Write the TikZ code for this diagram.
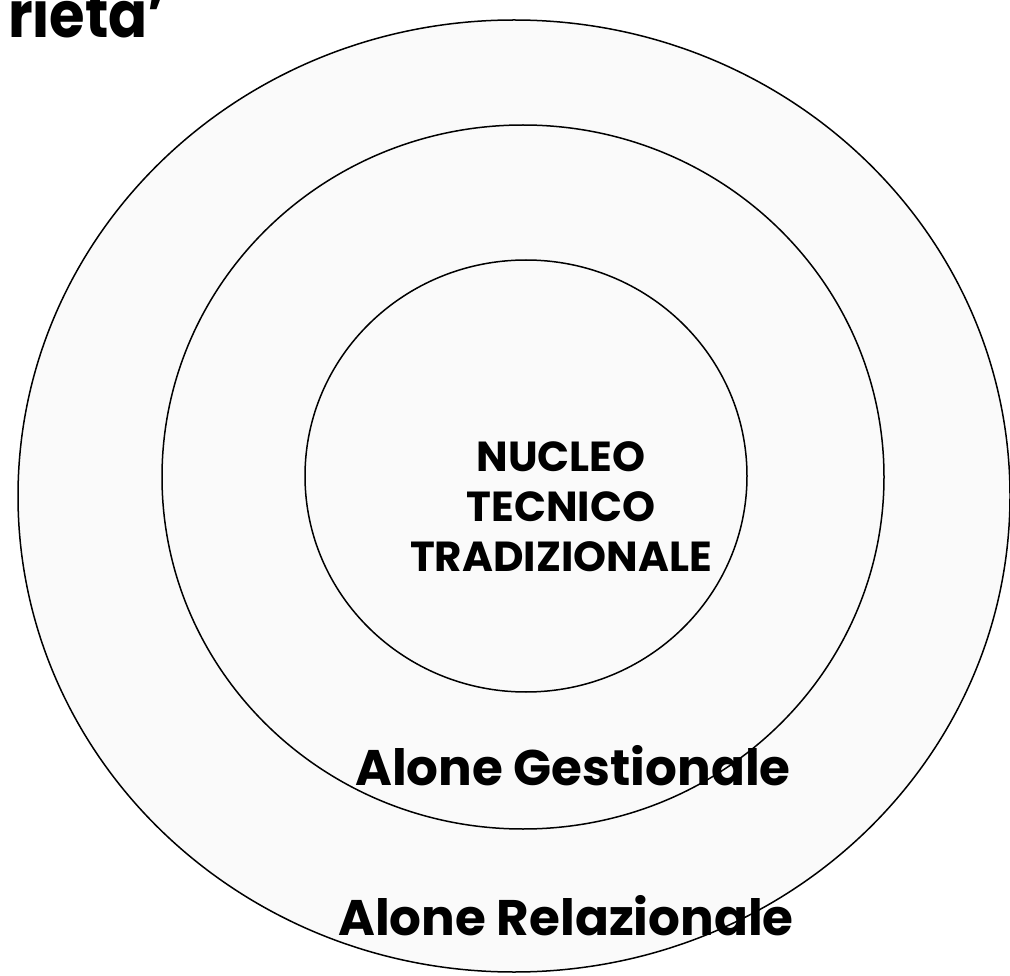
\documentclass[tikz,border=0pt]{standalone}
\usepackage{fontspec}
\setmainfont{Poppins}[BoldFont={* Bold}]
\begin{document}
\begin{tikzpicture}[x=1pt,y=-1pt,
  ring/.style={draw=black,line width=1.5pt,fill=black!2},
  lbl/.style={anchor=base,inner sep=0pt,font=\bfseries}]
\useasboundingbox (0,0) rectangle (1010,976);
\fill[white] (0,0) rectangle (1010,976);
\draw[ring] (514,496) ellipse [x radius=496, y radius=476];
\draw[ring] (523,477) ellipse [x radius=361, y radius=352];
\draw[ring] (526,476) ellipse [x radius=221, y radius=216];
\node[lbl,font=\bfseries\fontsize{42}{42}\selectfont] (n1) at (561,471) {NUCLEO};
\node[lbl,font=\bfseries\fontsize{42}{42}\selectfont] (n2) at (561,521) {TECNICO};
\node[lbl,font=\bfseries\fontsize{42}{42}\selectfont] (n3) at (561,571) {TRADIZIONALE};
\node[lbl,font=\bfseries\fontsize{50}{50}\selectfont] (g) at (573,785) {Alone Gestionale};
\node[lbl,font=\bfseries\fontsize{50}{50}\selectfont] (r) at (566,935) {Alone Relazionale};
\node[anchor=base east,inner sep=0pt,font=\bfseries\fontsize{64}{64}\selectfont] (t) at (166,38) {\scalebox{0.9}[1]{rieta'}};
\end{tikzpicture}
\end{document}
